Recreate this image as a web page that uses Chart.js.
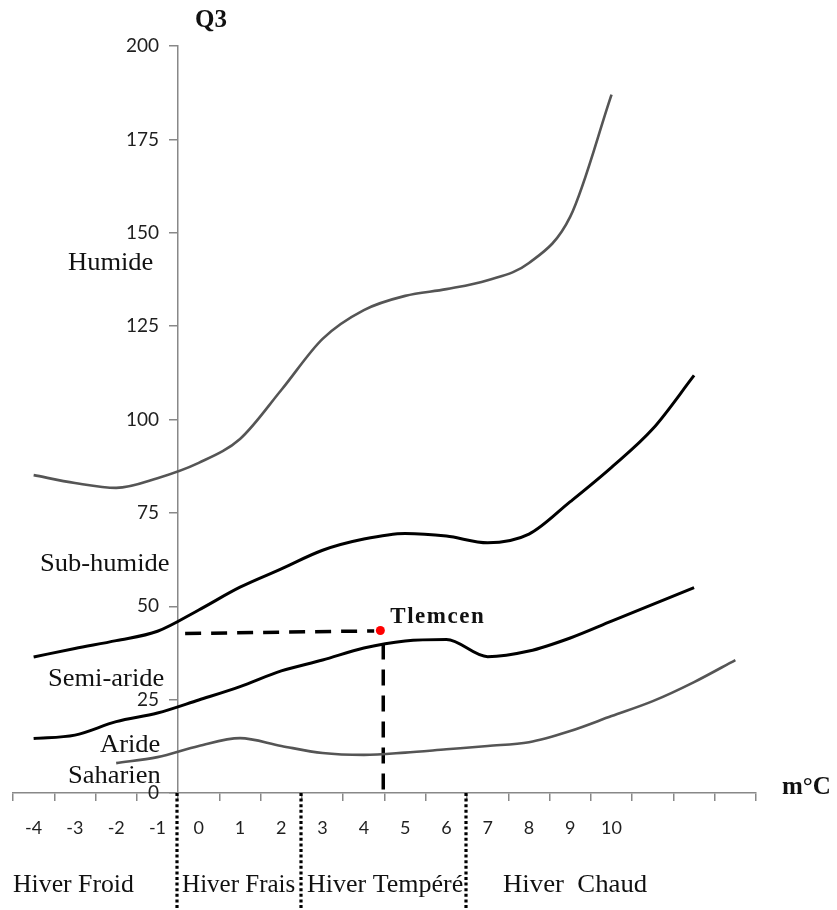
<!DOCTYPE html>
<html><head><meta charset="utf-8">
<script src="https://cdn.jsdelivr.net/npm/chart.js@4"></script>
<style>html,body{margin:0;padding:0;background:#fff;}#wrap{width:837px;height:910px;position:relative}</style>
</head><body><div id="wrap"><canvas id="c"></canvas></div>
<script>
// ---- data ----
const xTickPositions = [-4.5,-3.5,-2.5,-1.5,-0.5,0.5,1.5,2.5,3.5,4.5,5.5,6.5,7.5,8.5,9.5,10.5,11.5,12.5,13.5];
const xTickLabels = ['-4','-3','-2','-1','0','1','2','3','4','5','6','7','8','9','10','','','',''];
const yTickStep = 25;
const humideT = [-4,-3,-2,-1,0,1,2,3,4,5,6,7,8,9,10];
const humideQ = [85.1,83.0,81.7,84.3,88.4,94.8,107.9,121.6,129.3,133.1,134.9,137.3,141.9,154.3,187.0];
const subHumideT = [-4,-3,-2,-1,0,1,2,3,4,5,6,7,8,9,10,11,12];
const subHumideQ = [36.4,38.7,40.8,43.3,49.0,55.1,60.0,65.0,68.0,69.5,68.8,67.0,69.3,78.0,87.2,97.5,111.8];
const semiArideT = [-4,-3,-2,-1,0,1,2,3,4,5,6,7,8,9,10,11,12];
const semiArideQ = [14.6,15.5,19.1,21.4,24.9,28.5,32.7,35.6,38.8,40.7,41.1,36.5,38.0,41.5,46.0,50.5,55.0];
const arideT = [-2,-1,0,1,2,3,4,5,6,7,8,9,10,11,12,13];
const arideQ = [8.0,9.6,12.6,14.7,12.6,10.7,10.2,10.8,11.7,12.6,13.6,16.6,20.6,24.6,29.7,35.6];
const tlemcenM = [4.4];
const tlemcenQ = [43.5];
const guideHM = [-0.33, 4.25];
const guideHQ = [42.7, 43.4];
const guideVM = [4.47, 4.47];
const guideVQ = [40.0, -0.6];
const winterBounds = [-0.5, 2.5, 6.5];
const winterLabels = ['Hiver Froid','Hiver Frais','Hiver Tempéré','Hiver  Chaud'];
const zoneLabels = ['Humide','Sub-humide','Semi-aride','Aride','Saharien'];
const yTitle = 'Q3';
const xTitle = 'm°C';
const stationName = 'Tlemcen';

const pts = (xs, ys) => xs.map((x, i) => ({x, y: ys[i]}));
const curve = (data, color, w) => ({data, borderColor: color, borderWidth: w, pointRadius: 0,
  cubicInterpolationMode: 'monotone', fill: false});

const SERIF = '"Liberation Serif", "Times New Roman", serif';

function stretchText(ctx, t, x, y, sx) {
  ctx.save(); ctx.translate(x, y); ctx.scale(sx, 1); ctx.fillText(t, 0, 0); ctx.restore();
}

const decor = {
  id: 'decor',
  afterDraw(chart) {
    const ctx = chart.ctx, xs = chart.scales.x, ys = chart.scales.y;
    const axisX = xs.getPixelForValue(-0.5);
    ctx.save();
    // y tick labels
    ctx.fillStyle = '#1f1f1f'; ctx.font = '19px Lato'; ctx.textAlign = 'right'; ctx.textBaseline = 'middle';
    ys.ticks.forEach(tk => ctx.fillText(String(tk.value), axisX - 19, ys.getPixelForValue(tk.value)));
    // dotted winter boundaries
    ctx.strokeStyle = '#000'; ctx.lineWidth = 3.2; ctx.setLineDash([3, 2.6]);
    winterBounds.forEach(b => {
      const px = Math.round(xs.getPixelForValue(b)) - 1;
      ctx.beginPath(); ctx.moveTo(px, ys.getPixelForValue(0)); ctx.lineTo(px, 910); ctx.stroke();
    });
    ctx.setLineDash([]);
    ctx.fillStyle = '#111'; ctx.textBaseline = 'alphabetic'; ctx.textAlign = 'left';
    ctx.font = '25px ' + SERIF;
    const zonePos = [[68,270],[40,571],[48,686],[100,752],[68,783]];
    zoneLabels.forEach((t, i) => stretchText(ctx, t, zonePos[i][0], zonePos[i][1], 1.06));
    const wx = [13, xs.getPixelForValue(winterBounds[0]) + 4, xs.getPixelForValue(winterBounds[1]) + 5, xs.getPixelForValue(winterBounds[2]) + 36];
    const wsx = [1.03, 1.0, 1.04, 1.07];
    winterLabels.forEach((t, i) => stretchText(ctx, t, wx[i], 892, wsx[i]));
    ctx.font = 'bold 25px ' + SERIF;
    ctx.fillText(yTitle, 195, 27);
    ctx.fillText(xTitle, 782, 794);
    ctx.font = 'bold 23px ' + SERIF;
    try { ctx.letterSpacing = '1.5px'; } catch (e) {}
    ctx.fillText(stationName, xs.getPixelForValue(tlemcenM[0]) + 10, ys.getPixelForValue(tlemcenQ[0]) - 8);
    ctx.restore();
  }
};

new Chart(document.getElementById('c'), {
  type: 'line',
  data: {
    datasets: [
      curve(pts(humideT, humideQ), '#555', 2.6),
      curve(pts(subHumideT, subHumideQ), '#000', 3),
      curve(pts(semiArideT, semiArideQ), '#000', 3),
      curve(pts(arideT, arideQ), '#555', 2.6),
      {data: pts(guideHM, guideHQ), borderColor: '#000', borderWidth: 3.5, borderDash: [16, 10], pointRadius: 0, tension: 0},
      {data: pts(guideVM, guideVQ), borderColor: '#000', borderWidth: 3.5, borderDash: [16, 10], pointRadius: 0, tension: 0, clip: false},
      {data: pts(tlemcenM, tlemcenQ), showLine: false, pointRadius: 4.5, pointBackgroundColor: '#ff0000', pointBorderColor: '#ff0000', pointBorderWidth: 0}
    ]
  },
  options: {
    responsive: true, maintainAspectRatio: false, animation: false,
    layout: {padding: {left: 13, right: 81, top: 46, bottom: 57}},
    plugins: {legend: {display: false}, tooltip: {enabled: false}},
    scales: {
      x: {
        type: 'linear', position: 'bottom', min: -4.5, max: 13.5,
        afterBuildTicks: s => { s.ticks = xTickPositions.map(v => ({value: v})); },
        afterFit: s => { s.height = 60; s.paddingLeft = 0; s.paddingRight = 0; },
        grid: {drawOnChartArea: false, drawTicks: true, tickLength: 8, color: '#888', lineWidth: 1.5},
        border: {display: true, color: '#888', width: 1.5},
        ticks: {autoSkip: false, maxRotation: 0, padding: 16, labelOffset: 20.64,
          callback: (v, i) => xTickLabels[i],
          font: {family: 'Lato', size: 18}, color: '#1f1f1f'}
      },
      y: {
        type: 'linear', min: 0, max: 200, position: {x: -0.5},
        afterFit: s => { s.width = 0; s.paddingTop = 0; s.paddingBottom = 0; },
        grid: {drawOnChartArea: false, drawTicks: true, tickLength: 8, color: '#888', lineWidth: 1.5},
        border: {display: true, color: '#888', width: 1.5},
        ticks: {stepSize: yTickStep, display: false}
      }
    }
  },
  plugins: [decor]
});
</script></body></html>
